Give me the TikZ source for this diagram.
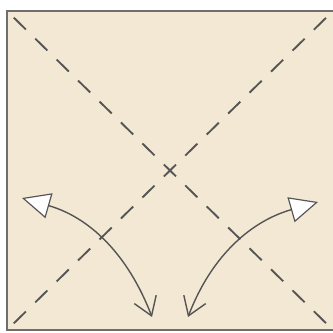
\documentclass[tikz,border=0pt]{standalone}
\usepackage{tikz}
\usetikzlibrary{arrows.meta}
\definecolor{paper}{RGB}{243,232,211}
\definecolor{crease}{RGB}{85,85,85}
\definecolor{edge}{RGB}{110,110,110}

\begin{document}
\begin{tikzpicture}[x=0.03cm, y=0.03cm,
  valley/.style={crease, line width=1.6pt, dash pattern=on 14.5pt off 11.1pt, dash phase=17.5pt},
  flip/.style={crease, line width=1.2pt,
               {Triangle[fill=white, length=24pt, width=22pt, line width=1pt]}-{Straight Barb[length=15pt, width=20pt]}},
]
  \useasboundingbox (0,0) rectangle (333,332);

  % sheet of paper
  \coordinate (tl) at (7,321);
  \coordinate (bl) at (7,2);
  \coordinate (tr) at (333,321);
  \coordinate (br) at (333,2);
  \fill[paper] (bl) rectangle (tr);
  \draw[edge, line width=1.2pt] (tr) -- (tl) -- (bl) -- (br);

  % diagonal folds
  \draw[valley] (tl) -- (br);
  \draw[valley] (bl) -- (tr);

  % fold and unfold
  \coordinate (lefttip) at (22,134);
  \coordinate (leftend) at (152,15);
  \coordinate (righttip) at (318,130);
  \coordinate (rightend) at (188,15);
  \draw[flip] (lefttip) to[out=-16, in=111] (leftend);
  \draw[flip] (righttip) to[out=196, in=69] (rightend);
\end{tikzpicture}
\end{document}
